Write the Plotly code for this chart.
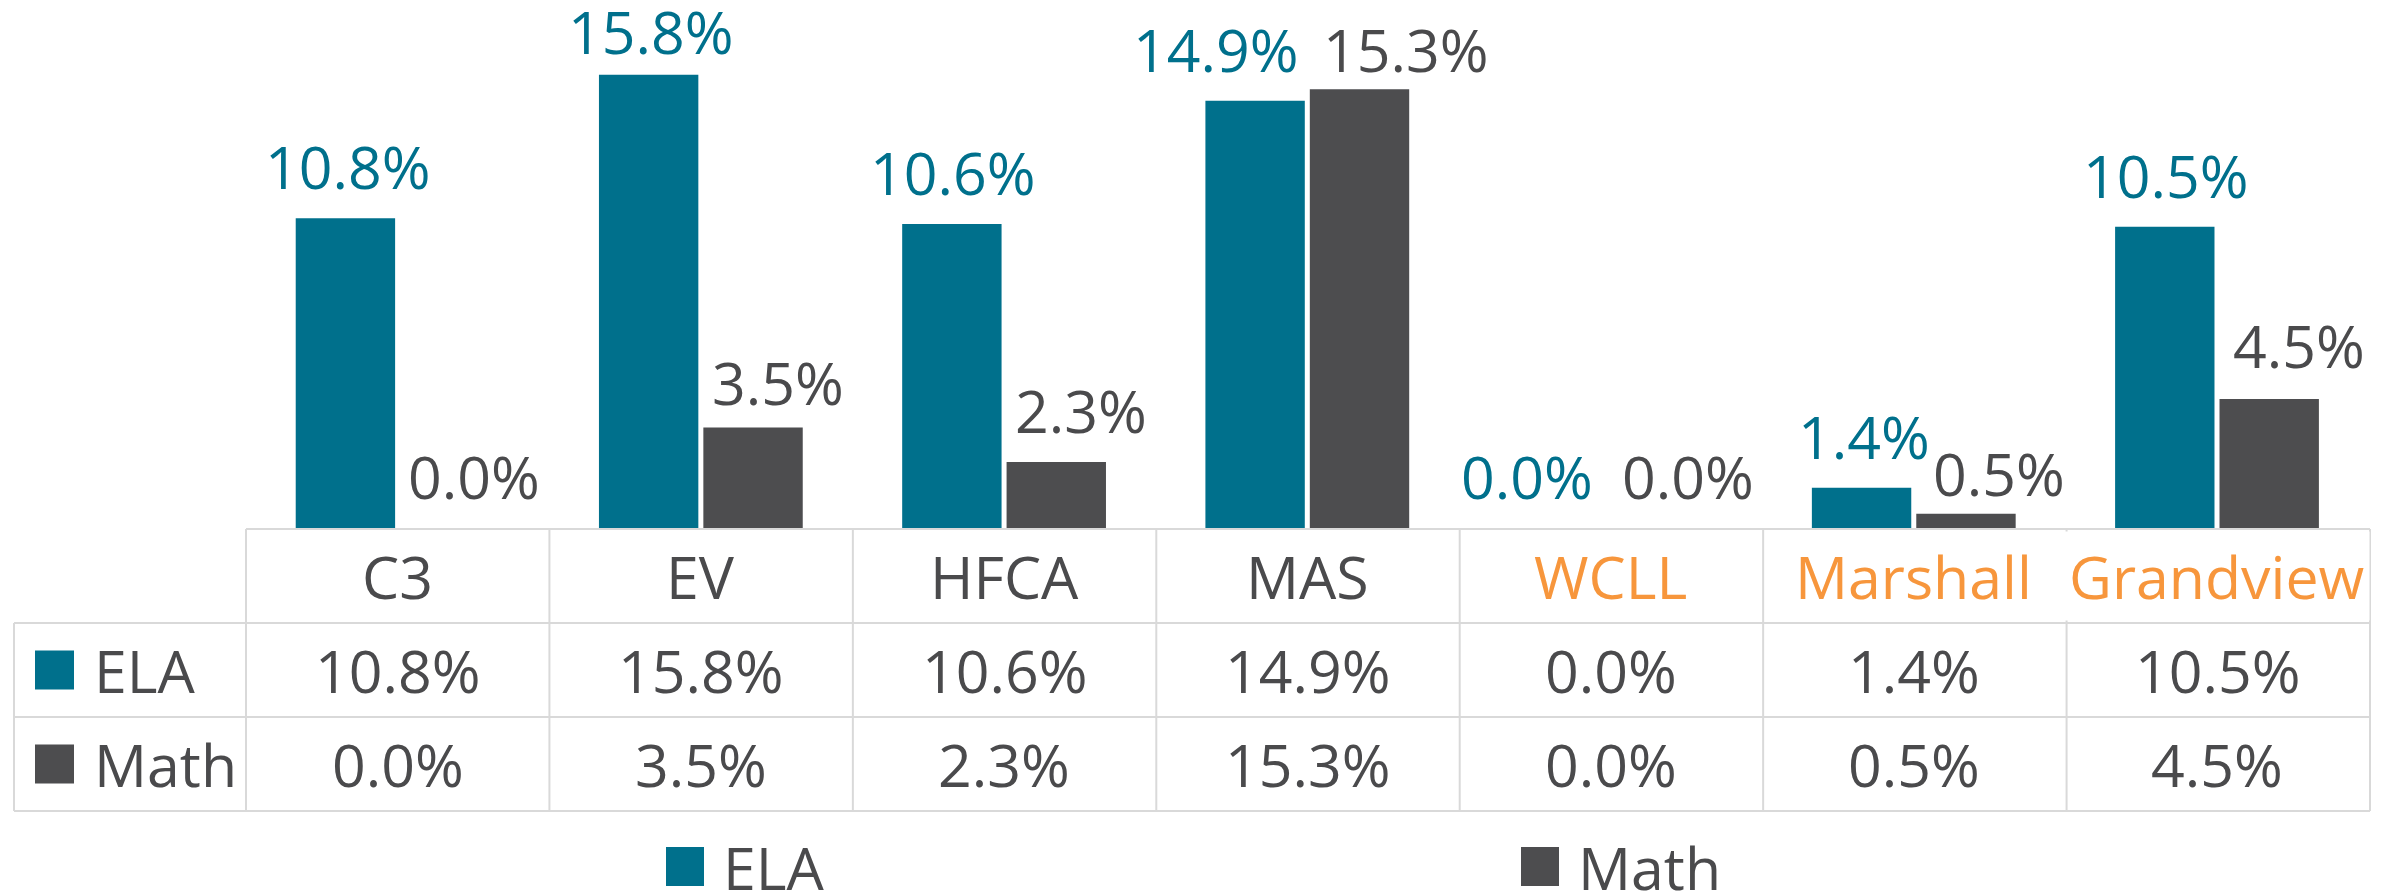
import plotly.graph_objects as go

# ---------------- data ----------------
categories = ["C3", "EV", "HFCA", "MAS", "WCLL", "Marshall", "Grandview"]
ela = [10.8, 15.8, 10.6, 14.9, 0.0, 1.4, 10.5]
math = [0.0, 3.5, 2.3, 15.3, 0.0, 0.5, 4.5]
series_names = ["ELA", "Math"]

# ---------------- style ----------------
PAGE_OFF = 8                 # default body margin of the html page
W, H = 2392 - PAGE_OFF, 896 - PAGE_OFF
TEAL = "#00708C"
GRAY = "#4D4D4F"
TXT = "#4A4A4C"
ORANGE = "#F7963C"
GRID = "#D9D9D9"
FONT = "Open Sans"
FS = 59
header_colors = [TXT, TXT, TXT, TXT, ORANGE, ORANGE, ORANGE]

# manual label nudges (px): dx to the right, dy downward
ela_dx = [2, 2, 1, -40, -31, 2, 1]
ela_dy = [0, 8, 0, 0, 0, 0, 0]
math_dx = [24, 25, 25, 46, 25, 33, 30]
math_dy = [0, 6, 0, 12, 0, 11, -2]

# page-pixel layout of the plot area
P_LEFT, P_RIGHT, P_BASE = 246, 2370, 528
L = P_LEFT - PAGE_OFF
R = W + PAGE_OFF - P_RIGHT
T = 0
PH = P_BASE - PAGE_OFF
B = H - PH
PW = W - L - R
BARGAP, GROUPGAP = 0.3114, 0.048
PX_PER_UNIT = 28.68
YMAX = PH / PX_PER_UNIT


def px2x(px):
    return (px - P_LEFT) / PW


def py2y(py):
    return (P_BASE - py) / PH


fig = go.Figure()
fig.add_trace(go.Bar(x=categories, y=ela, name=series_names[0], marker_color=TEAL,
                     marker_line_width=0, showlegend=False))
fig.add_trace(go.Bar(x=categories, y=math, name=series_names[1], marker_color=GRAY,
                     marker_line_width=0, showlegend=False))

ann = []
shapes = []
half_slot = (1 - BARGAP) / 4.0
BASE_YSHIFT = 10
for i, c in enumerate(categories):
    ann.append(dict(x=i - half_slot, y=ela[i], xref="x", yref="y", text=f"{ela[i]:.1f}%",
                    showarrow=False, xanchor="center", yanchor="bottom",
                    xshift=ela_dx[i], yshift=BASE_YSHIFT - ela_dy[i],
                    font=dict(family=FONT, size=FS, color=TEAL)))
    ann.append(dict(x=i + half_slot, y=math[i], xref="x", yref="y", text=f"{math[i]:.1f}%",
                    showarrow=False, xanchor="center", yanchor="bottom",
                    xshift=math_dx[i], yshift=BASE_YSHIFT - math_dy[i],
                    font=dict(family=FONT, size=FS, color=TXT)))

# ---------------- data table ----------------
row_top, row1, row2, row_bot = 529, 623, 717, 811
left_edge = 14
col_edges = [P_LEFT + k * PW / len(categories) for k in range(len(categories) + 1)]

line = dict(color=GRID, width=2)
shapes.append(dict(type="line", xref="paper", yref="paper", x0=px2x(P_LEFT), x1=px2x(P_RIGHT),
                   y0=py2y(row_top), y1=py2y(row_top), line=line))
for yy in (row1, row2, row_bot):
    shapes.append(dict(type="line", xref="paper", yref="paper", x0=px2x(left_edge), x1=px2x(P_RIGHT),
                       y0=py2y(yy), y1=py2y(yy), line=line))
shapes.append(dict(type="line", xref="paper", yref="paper", x0=px2x(left_edge), x1=px2x(left_edge),
                   y0=py2y(row1), y1=py2y(row_bot), line=line))
for xe in col_edges:
    shapes.append(dict(type="line", xref="paper", yref="paper", x0=px2x(xe), x1=px2x(xe),
                       y0=py2y(row_top), y1=py2y(row_bot), line=line))

hdr_y = py2y((row_top + row1) / 2)
ela_y = py2y((row1 + row2) / 2)
math_y = py2y((row2 + row_bot) / 2)
for i, c in enumerate(categories):
    ann.append(dict(x=i, y=hdr_y, xref="x", yref="paper", text=c, showarrow=False,
                    xanchor="center", yanchor="middle",
                    bgcolor="white" if i == len(categories) - 1 else None, borderpad=4,
                    font=dict(family=FONT, size=FS, color=header_colors[i])))
    ann.append(dict(x=i, y=ela_y, xref="x", yref="paper", text=f"{ela[i]:.1f}%", showarrow=False,
                    xanchor="center", yanchor="middle", font=dict(family=FONT, size=FS, color=TXT)))
    ann.append(dict(x=i, y=math_y, xref="x", yref="paper", text=f"{math[i]:.1f}%", showarrow=False,
                    xanchor="center", yanchor="middle", font=dict(family=FONT, size=FS, color=TXT)))

# legend keys inside table
for name, col, yc in ((series_names[0], TEAL, (row1 + row2) / 2), (series_names[1], GRAY, (row2 + row_bot) / 2)):
    shapes.append(dict(type="rect", xref="paper", yref="paper", x0=px2x(35), x1=px2x(74),
                       y0=py2y(yc - 19.5), y1=py2y(yc + 19.5), fillcolor=col, line=dict(width=0)))
    ann.append(dict(x=px2x(92), y=py2y(yc), xref="paper", yref="paper", text=name, showarrow=False,
                    xanchor="left", yanchor="middle", font=dict(family=FONT, size=FS, color=TXT)))

# ---------------- bottom legend ----------------
leg_y = 866.5
for name, col, x0 in ((series_names[0], TEAL, 666), (series_names[1], GRAY, 1521)):
    shapes.append(dict(type="rect", xref="paper", yref="paper", x0=px2x(x0), x1=px2x(x0 + 38),
                       y0=py2y(leg_y - 19.5), y1=py2y(leg_y + 19.5), fillcolor=col, line=dict(width=0)))
    ann.append(dict(x=px2x(x0 + 55), y=py2y(leg_y), xref="paper", yref="paper", text=name,
                    showarrow=False, xanchor="left", yanchor="middle",
                    font=dict(family=FONT, size=FS, color=TXT)))

fig.update_layout(
    width=W, height=H,
    margin=dict(l=L, r=R, t=T, b=B, pad=0),
    paper_bgcolor="white", plot_bgcolor="white",
    barmode="group", bargap=BARGAP, bargroupgap=GROUPGAP,
    xaxis=dict(showticklabels=False, showgrid=False, zeroline=False, showline=False,
               ticks="", fixedrange=True),
    yaxis=dict(range=[0, YMAX], visible=False, showgrid=False, zeroline=False),
    annotations=ann, shapes=shapes,
    font=dict(family=FONT, size=FS, color=TXT),
    showlegend=False,
)

fig.write_html("out.html")
